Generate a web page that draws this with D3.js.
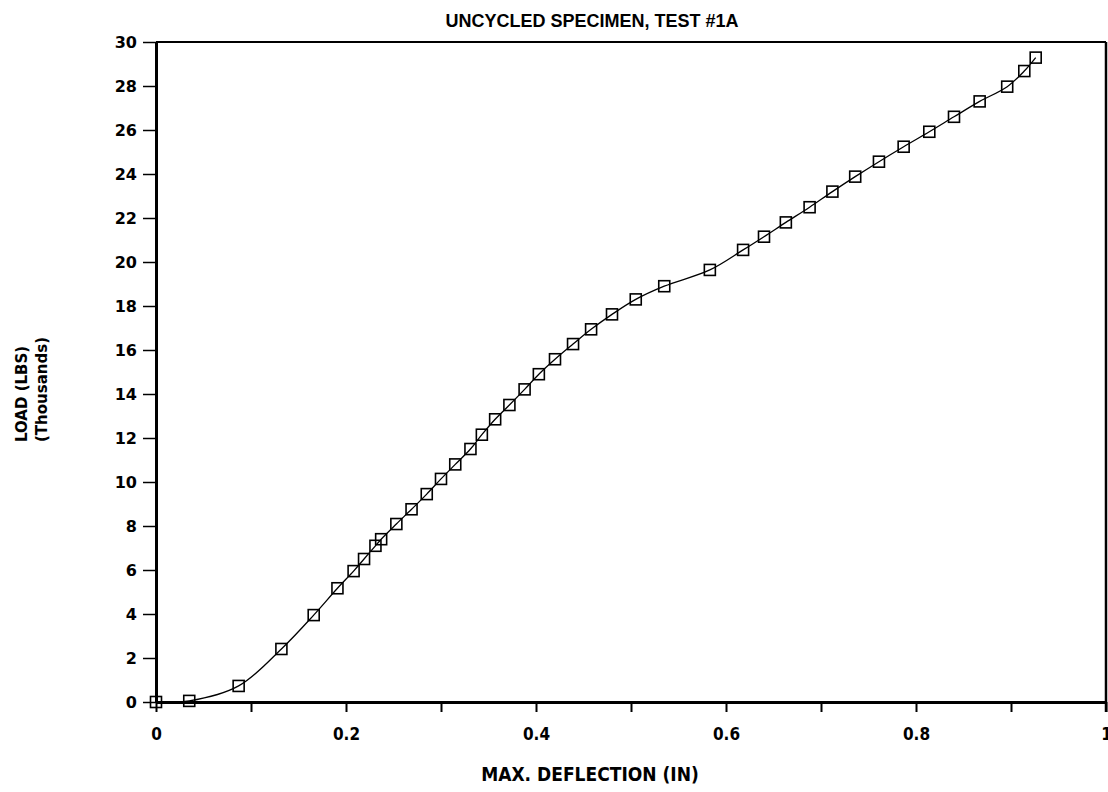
<!DOCTYPE html>
<html>
<head>
<meta charset="utf-8">
<script src="https://cdn.jsdelivr.net/npm/d3@7"></script>
<style>
  body { margin: 0; background: #fff; }
  svg { display: block; }
  .tick text { font-family: "DejaVu Sans", sans-serif; font-weight: bold; }
</style>
</head>
<body>
<div id="chart"></div>
<script>
// load vs. deflection, uncycled specimen test #1A
const deflection = [0, 0.035, 0.087, 0.132, 0.166, 0.191, 0.208, 0.219, 0.231, 0.237,
  0.253, 0.269, 0.285, 0.300, 0.315, 0.331, 0.343, 0.357, 0.372, 0.388,
  0.403, 0.420, 0.439, 0.458, 0.480, 0.505, 0.535, 0.583, 0.618, 0.640,
  0.663, 0.688, 0.712, 0.736, 0.761, 0.787, 0.814, 0.840, 0.867, 0.896,
  0.914, 0.926];
const load = [0, 0.05, 0.73, 2.41, 3.95, 5.17, 5.95, 6.5, 7.1, 7.4,
  8.09, 8.76, 9.45, 10.14, 10.8, 11.5, 12.15, 12.85, 13.5, 14.21,
  14.9, 15.58, 16.27, 16.94, 17.62, 18.3, 18.9, 19.64, 20.55, 21.15,
  21.8, 22.49, 23.2, 23.88, 24.56, 25.24, 25.92, 26.6, 27.3, 27.97,
  28.68, 29.29];
const xTicks = [0, 0.1, 0.2, 0.3, 0.4, 0.5, 0.6, 0.7, 0.8, 0.9, 1];
const xLabels = [0, 0.2, 0.4, 0.6, 0.8, 1];
const yTicks = d3.range(0, 31, 2);

const W = 1108, H = 792;
const svg = d3.select("#chart").append("svg")
  .attr("width", W).attr("height", H);

const x = d3.scaleLinear().domain([0, 1]).range([156, 1106]);
const y = d3.scaleLinear().domain([0, 30]).range([702, 42]);

// frame top + right
svg.append("line")
  .attr("x1", x(0)).attr("x2", x(1)).attr("y1", y(30)).attr("y2", y(30))
  .attr("stroke", "#000").attr("stroke-width", 2);
svg.append("line")
  .attr("x1", x(1)).attr("x2", x(1)).attr("y1", y(30)).attr("y2", y(0) + 10)
  .attr("stroke", "#000").attr("stroke-width", 2.5);

// y axis
const yAxis = svg.append("g")
  .attr("transform", `translate(${x(0)},0)`)
  .call(d3.axisLeft(y).tickValues(yTicks).tickSize(13).tickPadding(6).tickSizeOuter(0));
yAxis.select(".domain").attr("stroke-width", 3);
yAxis.selectAll(".tick line").attr("stroke-width", 1.5);
yAxis.selectAll(".tick text").attr("font-size", 16);

// x axis
const xAxis = svg.append("g")
  .attr("transform", `translate(0,${y(0)})`)
  .call(d3.axisBottom(x).tickValues(xTicks).tickSize(10).tickPadding(16).tickSizeOuter(0)
    .tickFormat(d => xLabels.some(v => Math.abs(v - d) < 1e-9) ? d3.format("")(+d.toFixed(1)) : ""));
xAxis.select(".domain").attr("stroke-width", 3);
xAxis.selectAll(".tick line").attr("stroke-width", 2);
xAxis.selectAll(".tick text")
  .attr("font-size", 17)
  .style("font-family", "'Liberation Sans Narrow', 'DejaVu Sans Condensed', sans-serif")
  .style("font-stretch", "condensed");

// curve
const pts = deflection.map((d, i) => [d, load[i]]);
svg.append("path")
  .datum(pts)
  .attr("fill", "none")
  .attr("stroke", "#000")
  .attr("stroke-width", 1.3)
  .attr("d", d3.line().x(d => x(d[0])).y(d => y(d[1])).curve(d3.curveCatmullRom.alpha(0.5)));

// square markers
const s = 11;
svg.selectAll("rect.pt")
  .data(pts)
  .join("rect")
  .attr("class", "pt")
  .attr("x", d => x(d[0]) - s / 2)
  .attr("y", d => y(d[1]) - s / 2)
  .attr("width", s).attr("height", s)
  .attr("fill", "none")
  .attr("stroke", "#000")
  .attr("stroke-width", 1.6);

// titles
svg.append("text")
  .attr("x", 592).attr("y", 27)
  .attr("text-anchor", "middle")
  .style("font-family", "'Liberation Sans', sans-serif")
  .style("font-weight", "bold")
  .style("font-size", "18px")
  .text("UNCYCLED SPECIMEN, TEST #1A");

svg.append("text")
  .attr("x", 590).attr("y", 781)
  .attr("text-anchor", "middle")
  .style("font-family", "'Liberation Sans Narrow', 'DejaVu Sans Condensed', sans-serif")
  .style("font-stretch", "condensed")
  .style("font-weight", "bold")
  .style("font-size", "19px")
  .text("MAX. DEFLECTION (IN)");

const yl = svg.append("text")
  .attr("transform", "translate(0,442) rotate(-90)")
  .style("font-family", "'DejaVu Sans', sans-serif")
  .style("font-weight", "bold")
  .style("font-size", "15px");
yl.append("tspan").attr("x", 0).attr("y", 27).text("LOAD (LBS)");
yl.append("tspan").attr("x", 0).attr("y", 47).text("(Thousands)");
</script>
</body>
</html>
